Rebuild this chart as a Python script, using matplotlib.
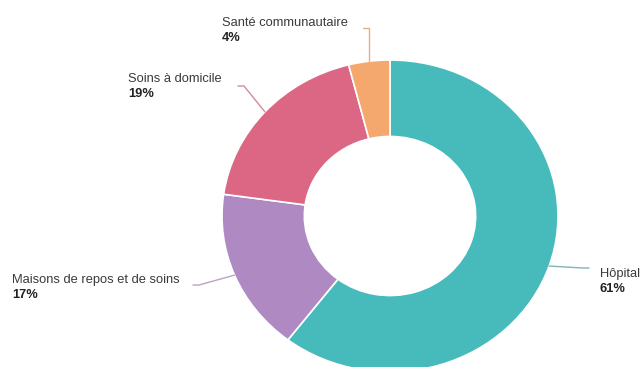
import numpy as np
import matplotlib.pyplot as plt

plt.rcParams['font.family'] = ['Liberation Sans', 'DejaVu Sans']

# data
categories = ["Hôpital", "Maisons de repos et de soins", "Soins à domicile", "Santé communautaire"]
values = [61, 17, 19, 4]
colors = ["#47BBBC", "#AE89C2", "#DC6784", "#F4A86E"]
line_colors = ["#7FB7B8", "#B9A3C8", "#D48A9C", "#E8B080"]

# layout in pixels (ellipse center, radii) - the picture is a little squashed
W, H = 641, 367
cx, cy = 390, 216
rx, ry = 168, 156

def px(x, y):
    # pixel -> data coords
    return (x - cx) / rx, (cy - y) / ry

# label placement: (text x, baseline y, line end x, line y)
label_pos = [
    (600, 277, 589, 268),
    (12, 283, 193, 285),
    (128, 82, 238, 86),
    (222, 26, 363, 28),
]

fig = plt.figure(figsize=(W / 100, H / 100), dpi=100)
ax = fig.add_axes([0, 0, 1, 1])
wedges, _ = ax.pie(values, colors=colors, startangle=90, counterclock=False,
                   radius=1.0, center=(0, 0),
                   wedgeprops=dict(width=0.49, edgecolor="white", linewidth=1.2))
ax.set_aspect("auto")
ax.set_xlim((0 - cx) / rx, (W - cx) / rx)
ax.set_ylim((cy - H) / ry, cy / ry)
ax.axis("off")

for w, name, val, lc, (tx, ty, lx, ly) in zip(wedges, categories, values, line_colors, label_pos):
    mid = np.deg2rad((w.theta1 + w.theta2) / 2)
    ax_x, ax_y = np.cos(mid), np.sin(mid)
    ex, ey = px(lx, ly)
    if name == "Santé communautaire":
        # vertical then horizontal
        xs = [ax_x, ax_x, ex]
        ys = [ax_y, ey, ey]
    else:
        kx, ky = px(lx - 6 if ax_x > 0 else lx + 6, ly)
        xs = [ax_x, kx, ex]
        ys = [ax_y, ky, ey]
    ax.plot(xs, ys, color=lc, lw=1.0, solid_capstyle="round")
    x0, y0 = px(tx, ty)
    x1, y1 = px(tx, ty + 15)
    ax.text(x0, y0, name, ha="left", va="baseline", fontsize=9.3, color="#3a3a3a")
    ax.text(x1, y1, f"{val}%", ha="left", va="baseline", fontsize=9.3,
            fontweight="bold", color="#222222")

fig.savefig("out.png", dpi=100)
